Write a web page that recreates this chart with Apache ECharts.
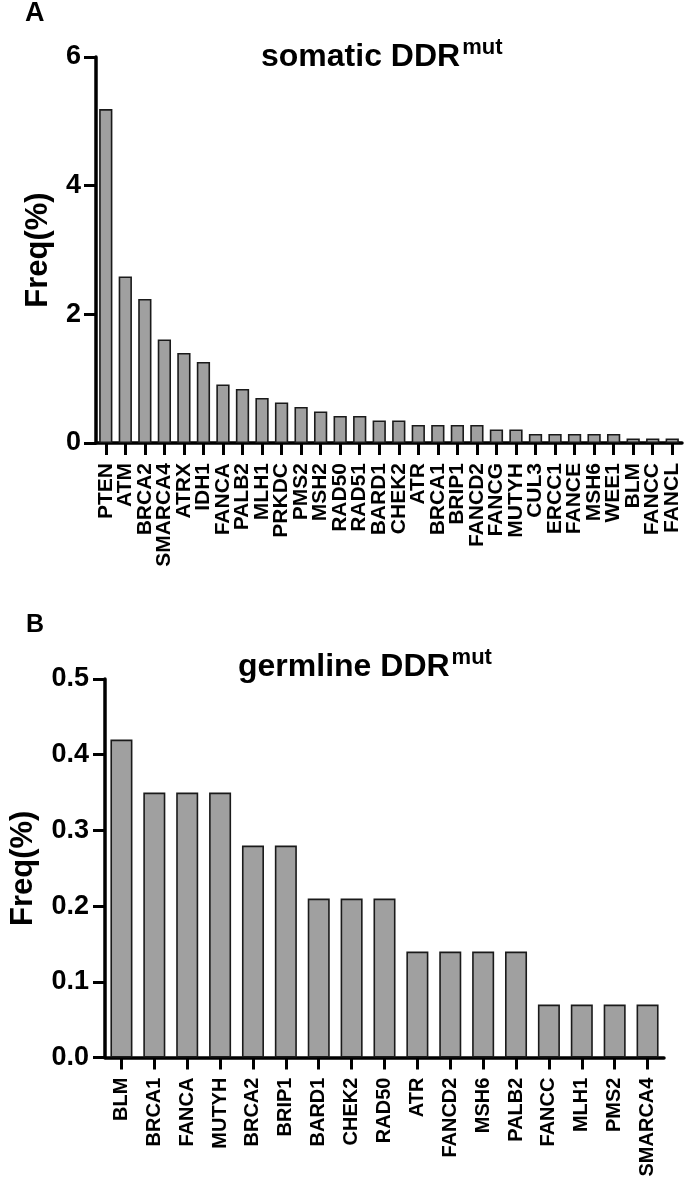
<!DOCTYPE html>
<html>
<head>
<meta charset="utf-8">
<script src="https://cdn.jsdelivr.net/npm/echarts@6/dist/echarts.min.js"></script>
<style>
html,body{margin:0;padding:0;background:#fff;}
#c{width:685px;height:1181px;}
</style>
</head>
<body>
<div id="c"></div>
<script>
// Panel A: somatic DDR mutations
const somaticGenes = ['PTEN','ATM','BRCA2','SMARCA4','ATRX','IDH1','FANCA','PALB2','MLH1','PRKDC','PMS2','MSH2','RAD50','RAD51','BARD1','CHEK2','ATR','BRCA1','BRIP1','FANCD2','FANCG','MUTYH','CUL3','ERCC1','FANCE','MSH6','WEE1','BLM','FANCC','FANCL'];
const somaticFreq = [5.19,2.59,2.24,1.61,1.40,1.26,0.91,0.84,0.70,0.63,0.56,0.49,0.42,0.42,0.35,0.35,0.28,0.28,0.28,0.28,0.21,0.21,0.14,0.14,0.14,0.14,0.14,0.07,0.07,0.07];
const somaticTicks = [0,2,4,6];

// Panel B: germline DDR mutations
const germlineGenes = ['BLM','BRCA1','FANCA','MUTYH','BRCA2','BRIP1','BARD1','CHEK2','RAD50','ATR','FANCD2','MSH6','PALB2','FANCC','MLH1','PMS2','SMARCA4'];
const germlineFreq = [0.42,0.35,0.35,0.35,0.28,0.28,0.21,0.21,0.21,0.14,0.14,0.14,0.14,0.07,0.07,0.07,0.07];
const germlineTicks = [0,0.1,0.2,0.3,0.4,0.5];

const FONT = 'Arial, "Liberation Sans", Helvetica, sans-serif';
const chart = echarts.init(document.getElementById('c'), null, {renderer:'canvas'});

function xAxisCfg(idx, cats, fs){
  return {
    type:'category', gridIndex:idx, data:cats, boundaryGap:true,
    axisLine:{show:true, lineStyle:{color:'#000', width:3.5}},
    axisTick:{show:true, alignWithLabel:true, length:12, lineStyle:{color:'#000', width:3}},
    axisLabel:{rotate:90, interval:0, margin:20, color:'#000', fontSize:fs, fontWeight:'bold', fontFamily:FONT},
    splitLine:{show:false}
  };
}
function yAxisCfg(idx, ticks, interval, decimals, nameGap, labelMargin){
  return {
    type:'value', gridIndex:idx, min:ticks[0], max:ticks[ticks.length-1], interval:interval,
    name:'Freq(%)', nameLocation:'middle', nameGap:nameGap,
    nameTextStyle:{color:'#000', fontSize:31, fontWeight:'bold', fontFamily:FONT},
    axisLine:{show:true, lineStyle:{color:'#000', width:3.5}},
    axisTick:{show:true, length:12, lineStyle:{color:'#000', width:3}},
    axisLabel:{margin:labelMargin, color:'#000', fontSize:27, fontWeight:'bold', fontFamily:FONT,
      formatter:function(v){return v.toFixed(decimals);}},
    splitLine:{show:false}
  };
}
const barStyle = {color:'#a0a0a0', borderColor:'#1a1a1a', borderWidth:1.6};
const titleRich = {
  a:{fontSize:32, fontWeight:'bold', fontFamily:FONT, color:'#000', lineHeight:36, verticalAlign:'bottom'},
  b:{fontSize:22, fontWeight:'bold', fontFamily:FONT, color:'#000', lineHeight:20, verticalAlign:'top', padding:[0,0,0,2]}
};

chart.setOption({
  backgroundColor:'#fff',
  animation:false,
  title:[
    {text:'{a|somatic DDR}{b|mut}', left:256, top:32, textStyle:{rich:titleRich}},
    {text:'{a|germline DDR}{b|mut}', left:233, top:642, textStyle:{rich:titleRich}}
  ],
  graphic:[
    {type:'text', left:25, top:0, style:{text:'A', fontSize:27, fontWeight:'bold', fontFamily:FONT, fill:'#000'}},
    {type:'text', left:26, top:613, style:{text:'B', fontSize:25, fontWeight:'bold', fontFamily:FONT, fill:'#000'}}
  ],
  grid:[
    {left:96, top:57, width:586, height:386},
    {left:96, top:679, width:568, height:378.6}
  ],
  xAxis:[xAxisCfg(0, somaticGenes, 21), xAxisCfg(1, germlineGenes, 20)],
  yAxis:[yAxisCfg(0, somaticTicks, 2, 0, 42, 15), yAxisCfg(1, germlineTicks, 0.1, 1, 66, 16)],
  series:[
    {type:'bar', xAxisIndex:0, yAxisIndex:0, data:somaticFreq, barCategoryGap:'32%', itemStyle:barStyle},
    {type:'bar', xAxisIndex:1, yAxisIndex:1, data:germlineFreq, barCategoryGap:'33%', itemStyle:barStyle}
  ]
});
</script>
</body>
</html>
